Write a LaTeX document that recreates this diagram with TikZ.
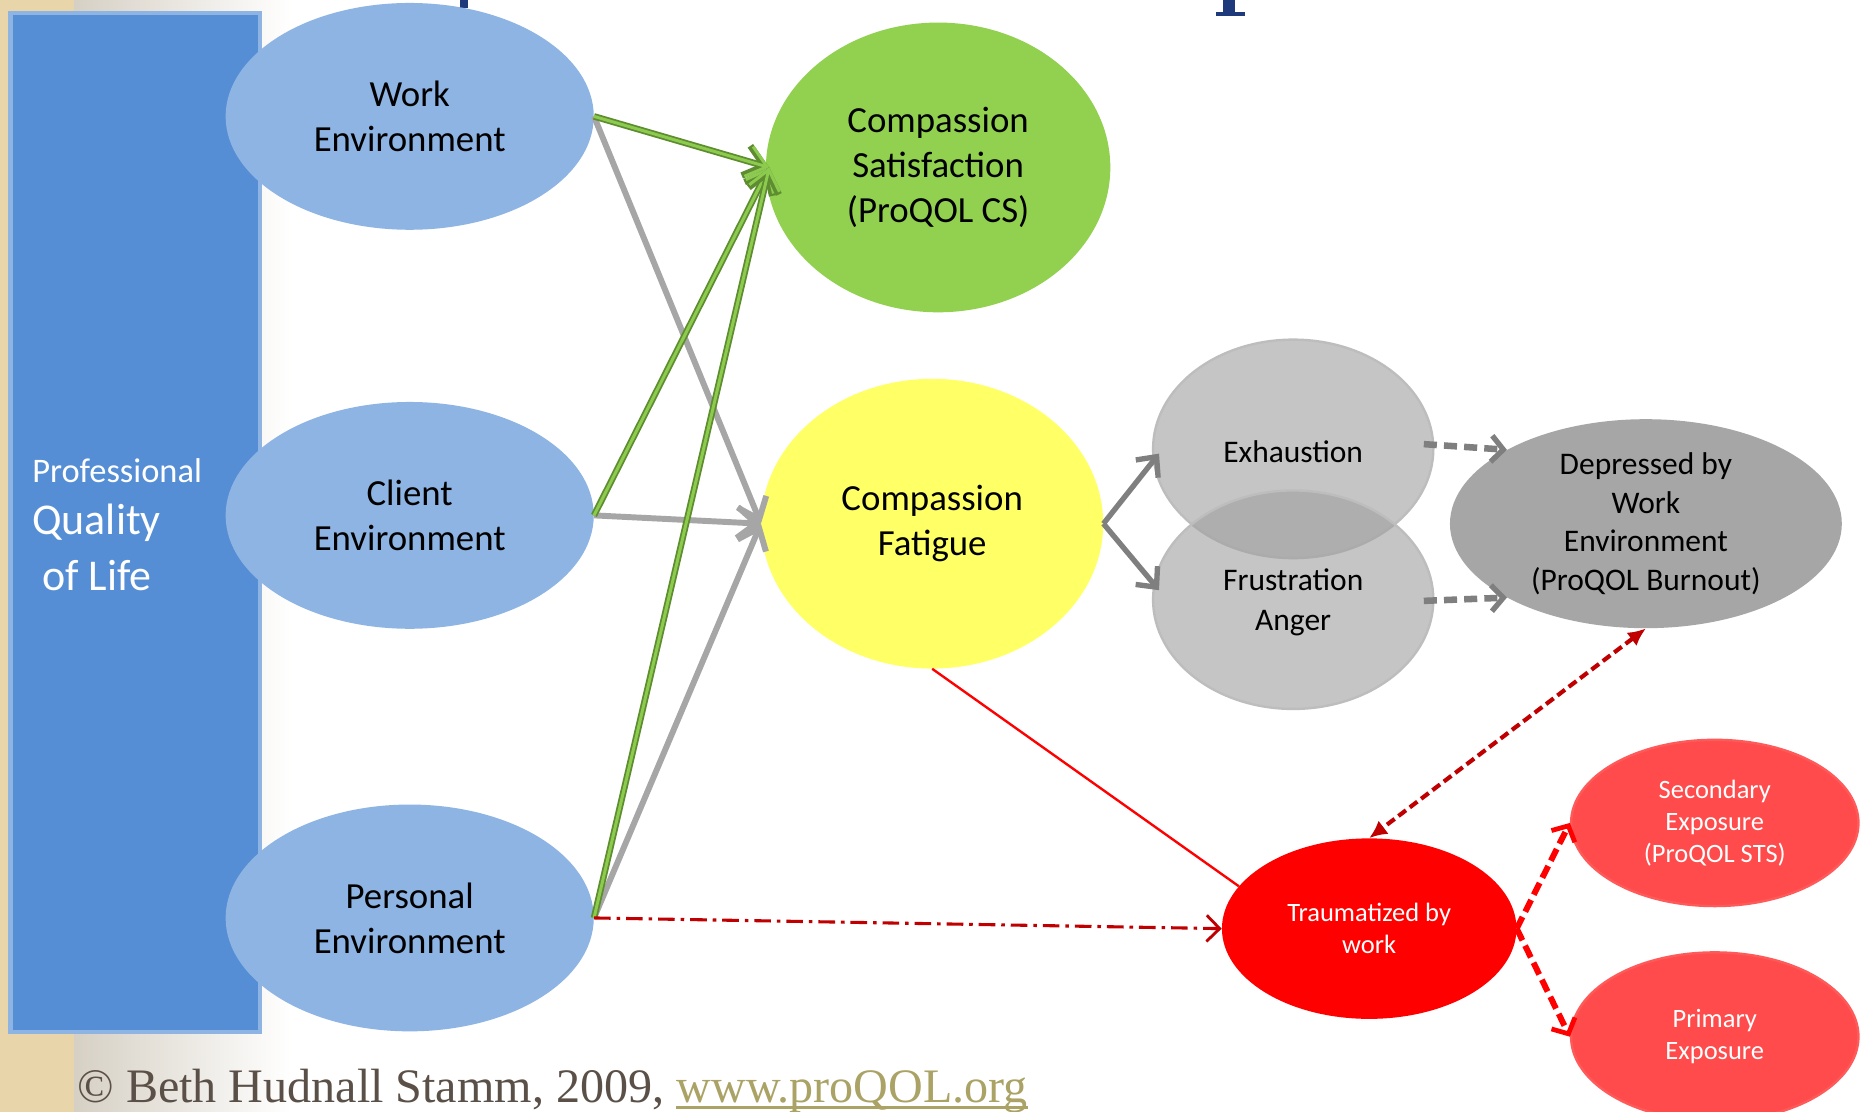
\documentclass[tikz,border=0pt]{standalone}
\usepackage{fontspec}
\setmainfont{Carlito}
\newfontfamily\footfont{Liberation Serif}
\usetikzlibrary{arrows.meta,shapes.geometric,calc}
\definecolor{parch}{HTML}{E8D6AA}
\definecolor{fadegrey}{HTML}{D6D0C4}
\definecolor{rectblue}{HTML}{558ED5}
\definecolor{envblue}{HTML}{8EB4E3}
\definecolor{csgreen}{HTML}{92D050}
\definecolor{cfyellow}{HTML}{FFFF66}
\definecolor{midgrey}{HTML}{9F9F9F}
\definecolor{greyline}{HTML}{BDBDBD}
\definecolor{depgrey}{HTML}{A6A6A6}
\definecolor{arrgrey}{HTML}{A6A6A6}
\definecolor{darkgreyarr}{HTML}{7F7F7F}
\definecolor{trred}{HTML}{FF0000}
\definecolor{lightred}{HTML}{FF4B4B}
\definecolor{lightredline}{HTML}{FF5A5A}
\definecolor{darkred}{HTML}{C00000}
\definecolor{greenout}{HTML}{5E8C31}
\definecolor{greenin}{HTML}{8CCB4E}
\definecolor{footgrey}{HTML}{5B5047}
\definecolor{footlink}{HTML}{ABA265}
\definecolor{titleblue}{HTML}{1F3A7A}
\tikzset{
  bubble/.style={ellipse, inner sep=0pt, align=center, font=\fontsize{31}{38}\selectfont},
  envnode/.style={bubble, fill=envblue, minimum width=310pt, minimum height=191pt},
  greynode/.style={ellipse, inner sep=0pt, align=center, fill=midgrey, fill opacity=0.6, text opacity=1,
     draw=greyline, line width=2pt, minimum width=236pt, minimum height=184pt},
  greytext/.style={align=center, font=\fontsize{26.5}{34}\selectfont},
  smallred/.style={ellipse, inner sep=0pt, align=center, text=white, font=\fontsize{22.3}{27}\selectfont},
  greyarrow/.style={draw=arrgrey, line width=5pt, -{Straight Barb[length=16pt,width=26pt,line width=5pt]}},
  greenouter/.style={draw=greenout, line width=5.5pt, -{Straight Barb[length=16pt,width=26pt,line width=5.5pt]}},
  greeninner/.style={draw=greenin, line width=2.5pt, -{Straight Barb[length=16pt,width=26pt,line width=2.5pt]}},
  cfarrow/.style={draw=darkgreyarr, line width=4.5pt, -{Straight Barb[length=13pt,width=24pt,line width=4.5pt]}},
  dasharrow/.style={draw=darkgreyarr, line width=5.5pt, dash pattern=on 11pt off 6pt, -{Straight Barb[length=10pt,width=22pt,line width=4.5pt]}},
  redsolid/.style={draw=trred, line width=2pt},
  dashdot/.style={draw=darkred, line width=2.6pt, dash pattern=on 14pt off 5pt on 3pt off 5pt, -{Straight Barb[length=11pt,width=22pt,line width=2.4pt]}},
  bidir/.style={draw=darkred, line width=3.5pt, dash pattern=on 8pt off 4pt, {Latex[length=15pt,width=14pt]}-{Latex[length=15pt,width=14pt]}},
  expoarrow/.style={draw=trred, line width=5pt, dash pattern=on 11pt off 5pt, -{Straight Barb[length=10pt,width=22pt,line width=4pt]}},
  lefttext/.style={anchor=west, inner sep=0pt, text=white}
}
\begin{document}
\begin{tikzpicture}[x=1pt,y=-1pt]
\useasboundingbox (0,0) rectangle (1568,936);
% background
\fill[white] (0,0) rectangle (1568,936);
\shade[left color=fadegrey, right color=white] (62,0) rectangle (245,936);
\fill[parch] (0,0) rectangle (62,936);
% title fragments
\fill[titleblue] (387,0) rectangle (394,7);
\fill[titleblue] (1030,0) rectangle (1040,11);
\fill[titleblue] (1024,10.5) rectangle (1048,13.5);
% blue rectangle
\node[draw=envblue, line width=4pt, fill=rectblue, minimum width=210pt, minimum height=858pt, inner sep=0pt] (pql) at (114,440) {};
\node[lefttext, font=\fontsize{29}{34}\selectfont] (prof) at (27,396) {Professional};
\node[lefttext, font=\fontsize{37}{44}\selectfont] (qual) at (27,440) {Quality};
\node[lefttext, font=\fontsize{37}{44}\selectfont] (life) at (27,485) {\ of Life};
% environment ellipses
\node[envnode] (we) at (345,98) {Work\\Environment};
\node[envnode] (ce) at (345,434) {Client\\Environment};
\node[envnode] (pe) at (345,773) {Personal\\Environment};
% CS and CF
\node[bubble, fill=csgreen, minimum width=290pt, minimum height=244pt] (cs) at (790,141) {Compassion\\Satisfaction\\(ProQOL CS)};
\node[bubble, fill=cfyellow, minimum width=288pt, minimum height=244pt] (cf) at (785,441) {Compassion\\Fatigue};
% grey ellipses
\node[greynode] (ex) at (1089,378) {};
\node[greynode] (fa) at (1089,505) {};
\node[greytext] (ext) at (1089,380) {Exhaustion};
\node[greytext] (fat) at (1089,507) {Frustration\\Anger};
\node[bubble, fill=depgrey, minimum width=330pt, minimum height=176pt, font=\fontsize{26.5}{32.5}\selectfont] (dep) at (1386,441) {Depressed by\\Work\\Environment\\(ProQOL Burnout)};
% red ellipses
\node[smallred, fill=trred, minimum width=248pt, minimum height=152pt] (tr) at (1153,782) {Traumatized by\\work};
\node[smallred, fill=lightred, draw=lightredline, line width=2pt, minimum width=242pt, minimum height=140pt] (se) at (1444,693) {Secondary\\Exposure\\(ProQOL STS)};
\node[smallred, fill=lightred, draw=lightredline, line width=2pt, minimum width=242pt, minimum height=142pt] (pr) at (1444,873) {Primary\\Exposure};
% arrows into CF (grey)
\draw[greyarrow] (we.east) -- (cf.west);
\draw[greyarrow] (ce.east) -- (cf.west);
\draw[greyarrow] (pe.east) -- (cf.west);
% arrows into CS (green)
\foreach \s in {we,ce,pe}{
  \draw[greenouter] (\s.east) -- ([xshift=3pt]cs.west);
  \draw[greeninner] (\s.east) -- ([xshift=3pt]cs.west);
}
% CF to exhaustion / frustration
\draw[cfarrow] (cf.east) -- ([shift={(6,4)}]ex.west);
\draw[cfarrow] (cf.east) -- ([shift={(6,-8)}]fa.west);
% dashed to depressed
\draw[dasharrow] ([shift={(-9,-4)}]ex.east) -- (dep.152);
\draw[dasharrow] ([shift={(-9,1)}]fa.east) -- (dep.208);
% red links
\draw[redsolid] (cf.south) -- (tr.162);
\draw[dashdot] (pe.east) -- (tr.west);
\draw[bidir] (dep.south) -- (tr.north);
\draw[expoarrow] (tr.east) -- (se.west);
\draw[expoarrow] (tr.east) -- (pr.west);
% footer
\node[anchor=base west, inner sep=0pt, text=footgrey, font=\footfont\fontsize{40.5}{44}\selectfont] (foot) at (65,928) {© Beth Hudnall Stamm, 2009,};
\node[anchor=base west, inner sep=0pt, text=footlink, font=\footfont\fontsize{40.5}{44}\selectfont] (link) at ([xshift=10pt]foot.base east) {www.proQOL.org};
\draw[footlink, line width=2.5pt] ([yshift=-5pt]link.base west) -- ([yshift=-5pt]link.base east);
\end{tikzpicture}
\end{document}
